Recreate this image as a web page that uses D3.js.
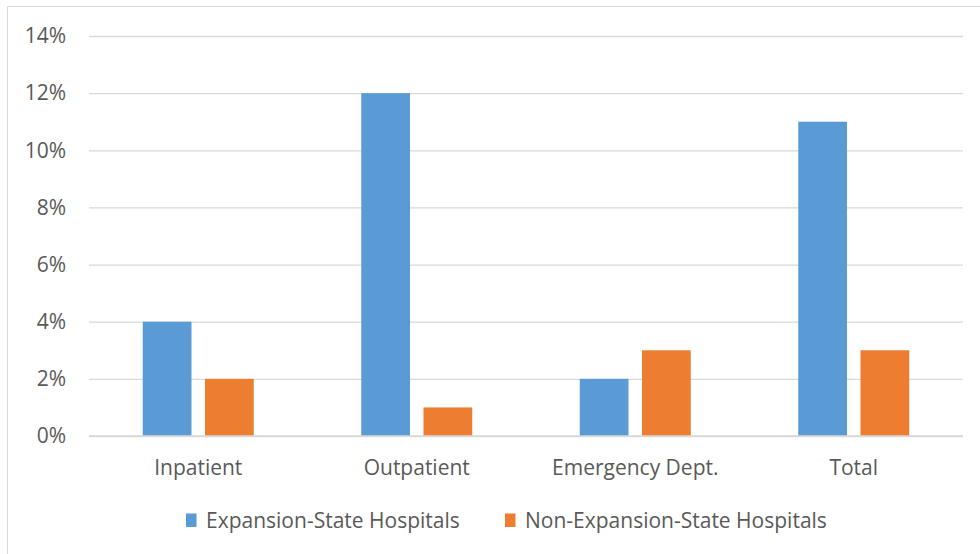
<!DOCTYPE html>
<html><head><meta charset="utf-8">
<script src="https://cdn.jsdelivr.net/npm/d3@7"></script>
<style>body{margin:0;background:#fff}svg{display:block}</style>
</head><body>
<svg id="c" width="980" height="554"></svg>
<script>
const categories = ["Inpatient", "Outpatient", "Emergency Dept.", "Total"];
const seriesNames = ["Expansion-State Hospitals", "Non-Expansion-State Hospitals"];
const expansionValues = [4, 12, 2, 11];
const nonExpansionValues = [2, 1, 3, 3];
const yTicks = [0, 2, 4, 6, 8, 10, 12, 14];
const colors = ["#5B9BD5", "#ED7D31"];

(function () {
const values = [expansionValues, nonExpansionValues];
const svg = d3.select("#c");
const font = "'Open Sans', sans-serif";
const fs = "21px";
const textColor = "#595959";

svg.append("rect").attr("x", 7.5).attr("y", 6.5).attr("width", 990).attr("height", 560)
  .attr("fill", "#fff").attr("stroke", "#D9D9D9").attr("stroke-width", 1);

const pl = 89, pr = 963, pt = 36, pb = 436;
const y = d3.scaleLinear().domain([0, 14]).range([pb, pt]);
const x0 = d3.scaleBand().domain(categories).range([pl, pr]).paddingInner(0.492).paddingOuter(0.246);
const x1 = d3.scaleBand().domain(seriesNames).range([0, x0.bandwidth()]).paddingInner(0.217).paddingOuter(0);

const yAxis = d3.axisLeft(y).tickValues(yTicks).tickSize(-(pr - pl)).tickFormat(d => d + "%").tickPadding(23);
const gy = svg.append("g").attr("transform", `translate(${pl},0)`).call(yAxis);
gy.select(".domain").remove();
gy.selectAll(".tick line").attr("stroke", "#D9D9D9").attr("stroke-width", 1.3);
gy.selectAll(".tick text").attr("fill", textColor).style("font-family", font).style("font-size", fs);

categories.forEach((c, i) => {
  seriesNames.forEach((s, j) => {
    svg.append("rect")
      .attr("x", x0(c) + x1(s))
      .attr("y", y(values[j][i]))
      .attr("width", x1.bandwidth())
      .attr("height", y(0) - y(values[j][i]))
      .attr("fill", colors[j]);
  });
});

svg.append("line").attr("x1", pl).attr("x2", pr).attr("y1", y(0)).attr("y2", y(0))
  .attr("stroke", "#D9D9D9").attr("stroke-width", 1.3);

const xAxis = d3.axisBottom(x0).tickSize(0).tickPadding(24);
const gx = svg.append("g").attr("transform", `translate(0,${pb})`).call(xAxis);
gx.select(".domain").remove();
gx.selectAll(".tick text").attr("fill", textColor).style("font-family", font).style("font-size", fs);

const legendX = [186, 505];
seriesNames.forEach((s, j) => {
  svg.append("rect").attr("x", legendX[j]).attr("y", 513.5).attr("width", 10.5).attr("height", 13.5).attr("fill", colors[j]);
  svg.append("text").attr("x", legendX[j] + 20).attr("y", 528).text(s)
    .attr("fill", textColor).style("font-family", font).style("font-size", fs);
});
})();
</script>
</body></html>
